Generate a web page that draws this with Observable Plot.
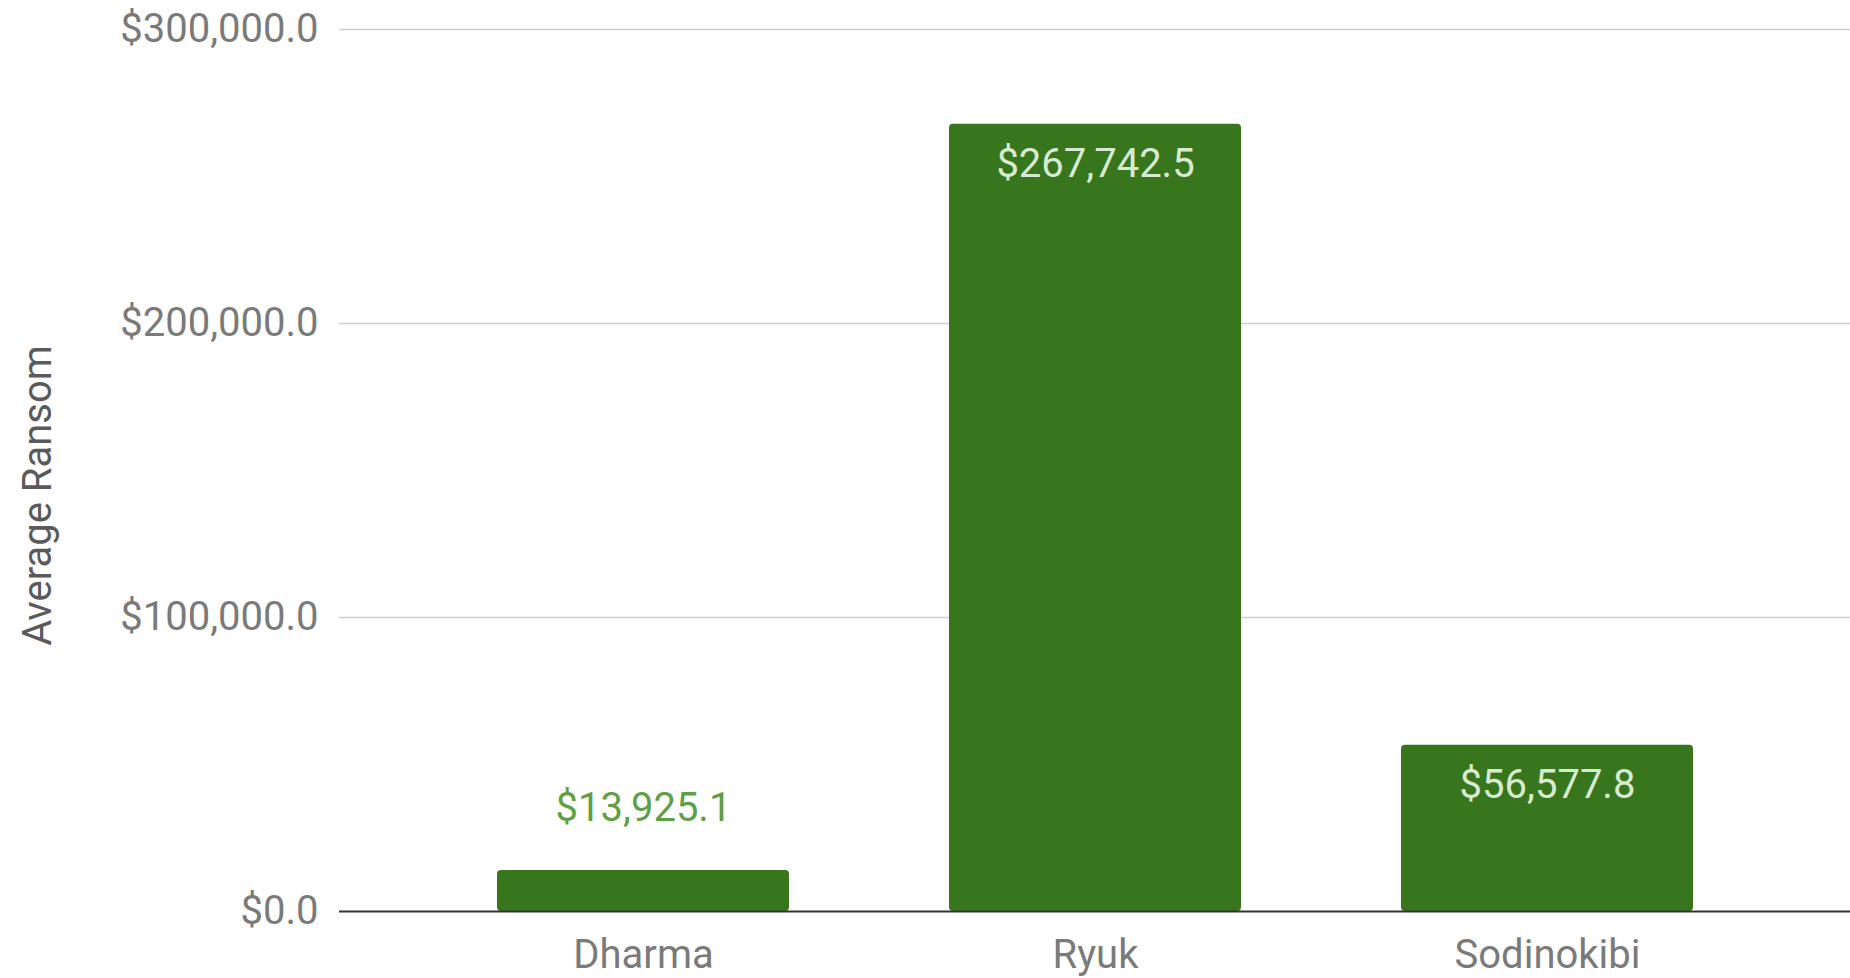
<!DOCTYPE html>
<html>
<head>
<meta charset="utf-8">
<script src="https://cdn.jsdelivr.net/npm/d3@7"></script>
<script src="https://cdn.jsdelivr.net/npm/@observablehq/plot@0.6"></script>
<style>
  html, body { margin: 0; padding: 0; background: #fff; }
  #chart svg { display: block; font-family: Roboto, "Noto Sans", sans-serif; }
</style>
</head>
<body>
<div id="chart"></div>
<script>
const categories = ["Dharma", "Ryuk", "Sodinokibi"];
const averageRansom = [13925.1, 267742.5, 56577.8];
const yTicks = [0, 100000, 200000, 300000];
const yLabel = "Average Ransom";

const data = categories.map((c, i) => ({ name: c, value: averageRansom[i] }));
const money = v => "$" + d3.format(",.1f")(v);
const yMax = d3.max(yTicks);
const inside = d => d.value > yMax * 0.1;

const chart = Plot.plot({
  width: 1850,
  height: 978,
  marginTop: 29,
  marginBottom: 67,
  marginLeft: 339,
  marginRight: 0,
  style: { fontFamily: "Roboto, 'Noto Sans', sans-serif", fontSize: "40px", background: "#fff" },
  x: { domain: categories, paddingInner: 0.354, paddingOuter: 0.348, label: null },
  y: { domain: [0, yMax], label: null },
  marks: [
    Plot.ruleY(yTicks.filter(t => t > 0), { stroke: "#cfcfcf", strokeWidth: 1.5 }),
    Plot.barY(data, { x: "name", y: "value", fill: "#38761d", rx: 4 }),
    Plot.ruleY([0], { stroke: "#333", strokeWidth: 2 }),
    Plot.axisY({ ticks: yTicks, tickFormat: money, tickSize: 0, tickPadding: 21, fill: "#7a7a7a", fontSize: 40, label: null }),
    Plot.axisX({ tickSize: 0, tickPadding: 28, fill: "#7a7a7a", fontSize: 40, label: null }),
    Plot.text(data.filter(inside), { x: "name", y: "value", text: d => money(d.value), dy: 40, fill: "#d9ead3", fontSize: 40 }),
    Plot.text(data.filter(d => !inside(d)), { x: "name", y: "value", text: d => money(d.value), dy: -62, fill: "#5f9f45", fontSize: 40 }),
    Plot.text([yLabel], { frameAnchor: "left", text: d => d, rotate: -90, textAnchor: "middle", dx: -301, dy: 25, fill: "#5a5a5a", fontSize: 40 })
  ]
});

document.getElementById("chart").appendChild(chart);
</script>
</body>
</html>
